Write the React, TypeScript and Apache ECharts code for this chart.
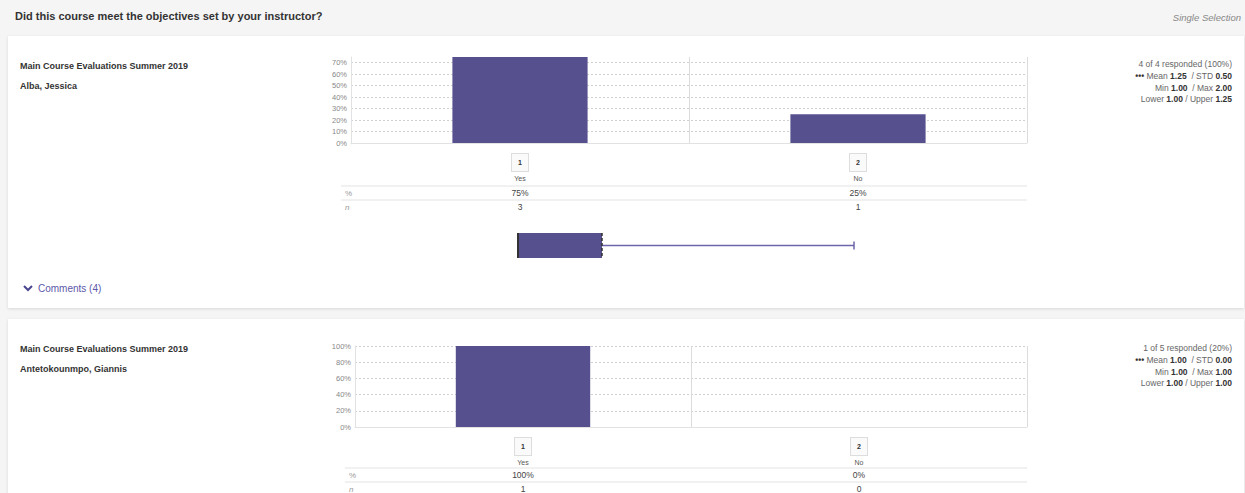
import React, { useEffect, useRef } from "react";
import * as echarts from "echarts";

const FONT = '"Liberation Sans", Arial, Helvetica, sans-serif';

const question = "Did this course meet the objectives set by your instructor?";
const questionType = "Single Selection";
const categories = ["Yes", "No"];
const codes = ["1", "2"];

const course = "Main Course Evaluations Summer 2019";
const instructor1 = "Alba, Jessica";
const pct1 = [75, 25];
const n1 = [3, 1];
const stats1 = { responded: "4 of 4 responded (100%)", mean: "1.25", std: "0.50", min: "1.00", max: "2.00", lower: "1.00", upper: "1.25" };
const box1 = [1.0, 1.0, 1.0, 1.25, 2.0]; // min, q1, median, q3, max
const comments1 = "Comments (4)";

const instructor2 = "Antetokounmpo, Giannis";
const pct2 = [100, 0];
const n2 = [1, 0];
const stats2 = { responded: "1 of 5 responded (20%)", mean: "1.00", std: "0.00", min: "1.00", max: "1.00", lower: "1.00", upper: "1.00" };

const BAR = "#56508f";
const GRID_LINE = "#e2e2e2";

function statsTexts(s: any, top: number) {
  const rich = {
    g: { fontFamily: FONT, fontSize: 8.5, fill: "#666" },
    b: { fontFamily: FONT, fontSize: 8.5, fill: "#333", fontWeight: "bold" },
    d: { fontFamily: FONT, fontSize: 8.5, fill: "#333", fontWeight: "bold" },
  };
  const lines = [
    `{g|${s.responded}}`,
    `{d|•••} {g|Mean }{b|${s.mean}}{g|  / STD }{b|${s.std}}`,
    `{g|Min }{b|${s.min}}{g|  / Max }{b|${s.max}}`,
    `{g|Lower }{b|${s.lower}}{g| / Upper }{b|${s.upper}}`,
  ];
  return lines.map((t, i) => ({
    type: "text",
    x: 1232,
    y: top + i * 11.8,
    style: { text: t, rich, align: "right", verticalAlign: "middle", fontFamily: FONT, fontSize: 8.5, fill: "#666" },
  }));
}

function catAxis(gridIndex: number) {
  return {
    type: "category",
    gridIndex,
    data: categories,
    axisLine: { show: true, lineStyle: { color: GRID_LINE } },
    axisTick: { show: false },
    splitLine: { show: true, lineStyle: { color: "#dcdcdc", width: 1 } },
    axisLabel: {
      interval: 0,
      margin: 10,
      formatter: (v: string, i: number) => `{code|${codes[i]}}\n{name|${v}}`,
      rich: {
        code: {
          width: 16, height: 17, lineHeight: 19, align: "center", verticalAlign: "middle",
          borderColor: "#dddddd", borderWidth: 1, backgroundColor: "#fafafa",
          fontFamily: FONT, fontSize: 7, fontWeight: "bold", color: "#333",
        },
        name: { fontFamily: FONT, fontSize: 7, color: "#555", lineHeight: 12 },
      },
    },
  };
}

function rowAxis(gridIndex: number, data: string[], offset: number) {
  return {
    type: "category",
    gridIndex,
    data,
    position: "bottom",
    offset,
    axisLine: { show: false },
    axisTick: { show: false },
    splitLine: { show: false },
    axisLabel: { interval: 0, margin: 0, fontFamily: FONT, fontSize: 8.5, color: "#444" },
  };
}

function valAxis(gridIndex: number, max: number, interval: number) {
  const exact = max % interval === 0;
  return {
    type: "value",
    gridIndex,
    min: 0,
    max,
    interval,
    axisLine: { show: true, lineStyle: { color: GRID_LINE } },
    axisTick: { show: false },
    axisLabel: {
      showMaxLabel: exact,
      formatter: (v: number) => `${v}%`,
      fontFamily: FONT, fontSize: 7.5, color: "#888", margin: 4,
    },
    splitLine: { show: true, showMaxLine: exact, lineStyle: { color: "#d0d0d0", type: [2, 2], width: 1 } },
  };
}

export default function App() {
  const ref = useRef<HTMLDivElement>(null);
  useEffect(() => {
    if (!ref.current) return;
    const chart = echarts.init(ref.current, null, { renderer: "svg" });

    const graphic: any[] = [
      { type: "rect", z: -10, shape: { x: 0, y: 0, width: 1245, height: 493 }, style: { fill: "#f5f5f5" } },
      { type: "rect", z: -9, shape: { x: 8, y: 36, width: 1236, height: 272 }, style: { fill: "#ffffff", shadowBlur: 3, shadowColor: "rgba(0,0,0,0.12)", shadowOffsetY: 1 } },
      { type: "rect", z: -9, shape: { x: 8, y: 319, width: 1236, height: 190 }, style: { fill: "#ffffff", shadowBlur: 3, shadowColor: "rgba(0,0,0,0.12)", shadowOffsetY: 1 } },
      { type: "text", x: 15, y: 16, style: { text: question, fontFamily: FONT, fontSize: 11, fontWeight: "bold", fill: "#333", verticalAlign: "middle" } },
      { type: "text", x: 1241, y: 17, style: { text: questionType, fontFamily: FONT, fontSize: 9.5, fontStyle: "italic", fill: "#888", align: "right", verticalAlign: "middle" } },
      // panel 1
      { type: "text", x: 20, y: 66, style: { text: course, fontFamily: FONT, fontSize: 9, fontWeight: "bold", fill: "#333", verticalAlign: "middle" } },
      { type: "text", x: 20, y: 86, style: { text: instructor1, fontFamily: FONT, fontSize: 9, fontWeight: "bold", fill: "#333", verticalAlign: "middle" } },
      ...statsTexts(stats1, 64),
      { type: "line", shape: { x1: 341, y1: 186, x2: 1027, y2: 186 }, style: { stroke: "#e3e3e3", lineWidth: 1 } },
      { type: "line", shape: { x1: 341, y1: 200, x2: 1027, y2: 200 }, style: { stroke: "#e3e3e3", lineWidth: 1 } },
      { type: "text", x: 345, y: 193, style: { text: "%", fontFamily: FONT, fontSize: 8, fill: "#999", verticalAlign: "middle" } },
      { type: "text", x: 345, y: 207, style: { text: "n", fontFamily: FONT, fontSize: 8, fontStyle: "italic", fill: "#999", verticalAlign: "middle" } },
      { type: "polyline", shape: { points: [[24, 286], [28, 290], [32, 286]] }, style: { stroke: "#4a4690", lineWidth: 2, fill: null } },
      { type: "text", x: 38, y: 288, style: { text: comments1, fontFamily: FONT, fontSize: 10, fill: "#5c58a8", verticalAlign: "middle" } },
      // panel 2
      { type: "text", x: 20, y: 349, style: { text: course, fontFamily: FONT, fontSize: 9, fontWeight: "bold", fill: "#333", verticalAlign: "middle" } },
      { type: "text", x: 20, y: 369, style: { text: instructor2, fontFamily: FONT, fontSize: 9, fontWeight: "bold", fill: "#333", verticalAlign: "middle" } },
      ...statsTexts(stats2, 348),
      { type: "line", shape: { x1: 345, y1: 468, x2: 1027, y2: 468 }, style: { stroke: "#e3e3e3", lineWidth: 1 } },
      { type: "line", shape: { x1: 345, y1: 482, x2: 1027, y2: 482 }, style: { stroke: "#e3e3e3", lineWidth: 1 } },
      { type: "text", x: 349, y: 475, style: { text: "%", fontFamily: FONT, fontSize: 8, fill: "#999", verticalAlign: "middle" } },
      { type: "text", x: 349, y: 489, style: { text: "n", fontFamily: FONT, fontSize: 8, fontStyle: "italic", fill: "#999", verticalAlign: "middle" } },
    ];

    const option: any = {
      animation: false,
      textStyle: { fontFamily: FONT },
      graphic,
      grid: [
        { left: 351, top: 57, width: 676, height: 86 },
        { left: 355, top: 346, width: 672, height: 81 },
        { left: 350, top: 233, width: 672, height: 25 },
      ],
      xAxis: [
        catAxis(0),
        rowAxis(0, pct1.map((v) => `${v}%`), 45),
        rowAxis(0, n1.map(String), 59),
        catAxis(1),
        rowAxis(1, pct2.map((v) => `${v}%`), 43),
        rowAxis(1, n2.map(String), 57),
        { type: "value", gridIndex: 2, min: 0.5, max: 2.5, show: false },
      ],
      yAxis: [
        valAxis(0, 75, 10),
        valAxis(1, 100, 20),
        { type: "category", gridIndex: 2, data: ["box"], show: false },
      ],
      series: [
        { type: "bar", xAxisIndex: 0, yAxisIndex: 0, data: pct1, barWidth: "40%", itemStyle: { color: BAR } },
        { type: "bar", xAxisIndex: 3, yAxisIndex: 1, data: pct2, barWidth: "40%", itemStyle: { color: BAR } },
        {
          type: "custom",
          xAxisIndex: 6,
          yAxisIndex: 2,
          data: [box1],
          renderItem: (params: any, api: any) => {
            const cy = api.coord([api.value(1), 0])[1];
            const h = api.size([0, 1])[1];
            const xMin = api.coord([api.value(0), 0])[0];
            const xQ1 = api.coord([api.value(1), 0])[0];
            const xMed = api.coord([api.value(2), 0])[0];
            const xQ3 = api.coord([api.value(3), 0])[0];
            const xMax = api.coord([api.value(4), 0])[0];
            const top = cy - h / 2;
            return {
              type: "group",
              children: [
                { type: "line", shape: { x1: xQ3, y1: cy, x2: xMax, y2: cy }, style: { stroke: "#6b66aa", lineWidth: 1.5 } },
                { type: "line", shape: { x1: xMax, y1: cy - 4, x2: xMax, y2: cy + 4 }, style: { stroke: "#6b66aa", lineWidth: 1.5 } },
                { type: "line", shape: { x1: xMin, y1: cy, x2: xQ1, y2: cy }, style: { stroke: "#6b66aa", lineWidth: 1.5 } },
                { type: "rect", shape: { x: xQ1, y: top, width: xQ3 - xQ1, height: h }, style: { fill: BAR } },
                { type: "line", shape: { x1: xQ3, y1: top, x2: xQ3, y2: top + h }, style: { stroke: "#333", lineWidth: 1.5, lineDash: [3, 2] } },
                { type: "line", shape: { x1: xMed, y1: top, x2: xMed, y2: top + h }, style: { stroke: "#333", lineWidth: 2 } },
              ],
            };
          },
        },
      ],
    };
    chart.setOption(option);
    return () => chart.dispose();
  }, []);
  return <div ref={ref} style={{ position: "absolute", left: 0, top: 0, width: 1245, height: 493 }} />;
}
